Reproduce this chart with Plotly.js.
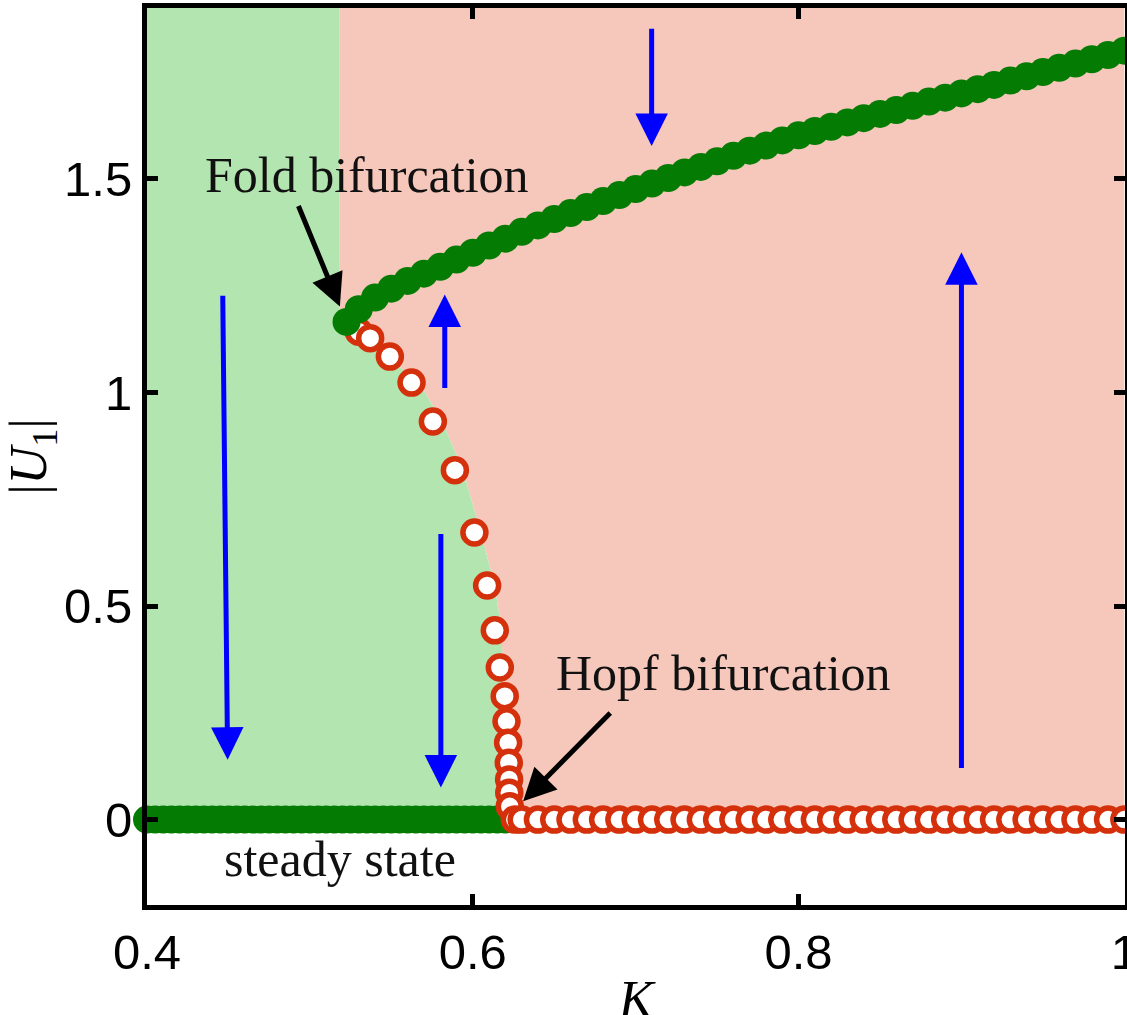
<!DOCTYPE html>
<html>
<head>
<meta charset="utf-8">
<script src="https://cdn.plot.ly/plotly-3.0.1.min.js"></script>
<style>
  html, body { margin: 0; padding: 0; background: #ffffff; overflow: hidden; }
  #chart { width: 1127px; height: 1045px; }
</style>
</head>
<body>
<div id="chart"></div>
<script>
// Bifurcation diagram of |U1| against the coupling K.

// Stable limit-cycle branch (upper, filled markers)
const upperK = [0.5225, 0.53, 0.54, 0.55, 0.56, 0.57, 0.58, 0.59, 0.60, 0.61, 0.62, 0.63, 0.64, 0.65, 0.66, 0.67, 0.68, 0.69,
  0.70, 0.71, 0.72, 0.73, 0.74, 0.75, 0.76, 0.77, 0.78, 0.79, 0.80, 0.81, 0.82, 0.83, 0.84, 0.85, 0.86, 0.87, 0.88, 0.89,
  0.90, 0.91, 0.92, 0.93, 0.94, 0.95, 0.96, 0.97, 0.98, 0.99, 1.00];
const upperU = [1.165, 1.195, 1.222, 1.243, 1.261, 1.278, 1.294, 1.311, 1.327, 1.344, 1.360, 1.376, 1.391, 1.406, 1.420, 1.434, 1.448, 1.462,
  1.476, 1.489, 1.502, 1.515, 1.528, 1.541, 1.554, 1.566, 1.578, 1.590, 1.602, 1.612, 1.622, 1.632, 1.642, 1.652, 1.661, 1.671, 1.681, 1.690,
  1.700, 1.710, 1.720, 1.730, 1.740, 1.750, 1.760, 1.770, 1.780, 1.790, 1.800];

// Unstable branch from the fold down to the Hopf point (open markers)
const unstableK = [0.5300, 0.5370, 0.5491, 0.5624, 0.5755, 0.5890, 0.6010, 0.6088, 0.6135, 0.6166, 0.6196, 0.6207, 0.6217, 0.6221, 0.6223, 0.6224, 0.6227, 0.6258];
const unstableU = [1.142, 1.127, 1.084, 1.023, 0.932, 0.818, 0.672, 0.548, 0.443, 0.356, 0.289, 0.230, 0.180, 0.133, 0.094, 0.063, 0.031, 0.000];

// Steady state: stable below the Hopf point, unstable above it
const steadyStableK = [0.400, 0.405, 0.410, 0.415, 0.420, 0.425, 0.430, 0.435, 0.440, 0.445, 0.450, 0.455, 0.460, 0.465, 0.470,
  0.475, 0.480, 0.485, 0.490, 0.495, 0.500, 0.505, 0.510, 0.515, 0.520, 0.525, 0.530, 0.535, 0.540, 0.545, 0.550, 0.555,
  0.560, 0.565, 0.570, 0.575, 0.580, 0.585, 0.590, 0.595, 0.600, 0.605, 0.610, 0.615, 0.620];
const steadyStableU = [0, 0, 0, 0, 0, 0, 0, 0, 0, 0, 0, 0, 0, 0, 0, 0, 0, 0, 0, 0, 0, 0, 0, 0, 0, 0, 0, 0, 0, 0, 0, 0,
  0, 0, 0, 0, 0, 0, 0, 0, 0, 0, 0, 0, 0];
const steadyUnstableK = [0.63, 0.64, 0.65, 0.66, 0.67, 0.68, 0.69, 0.70, 0.71, 0.72, 0.73, 0.74, 0.75, 0.76, 0.77, 0.78, 0.79,
  0.80, 0.81, 0.82, 0.83, 0.84, 0.85, 0.86, 0.87, 0.88, 0.89, 0.90, 0.91, 0.92, 0.93, 0.94, 0.95, 0.96, 0.97, 0.98, 0.99, 1.00];
const steadyUnstableU = [0, 0, 0, 0, 0, 0, 0, 0, 0, 0, 0, 0, 0, 0, 0, 0, 0, 0, 0, 0, 0, 0, 0, 0, 0, 0, 0, 0, 0, 0, 0, 0, 0, 0, 0, 0, 0, 0];

// Edge between the basin that decays to the steady state and the one that oscillates
const basinEdgeK = [0.518, 0.518, 0.528, 0.545, 0.558, 0.569, 0.581, 0.594, 0.605, 0.6135, 0.6176, 0.619, 0.619, 0.619];
const basinEdgeU = [1.9, 1.17, 1.145, 1.095, 1.05, 1.01, 0.935, 0.817, 0.671, 0.548, 0.443, 0.30, 0.10, 0.0];

// Flow-direction arrows: [K tail, U tail, K head, U head]
const flowArrows = [
  [0.4465, 1.23, 0.4495, 0.14],
  [0.5828, 1.007, 0.5828, 1.229],
  [0.5804, 0.672, 0.5804, 0.075],
  [0.7098, 1.855, 0.7098, 1.577],
  [0.9000, 0.117, 0.9000, 1.328]
];

// Pointer arrows for the two bifurcations: [K tail, U tail, K head, U head]
const pointerArrows = [
  [0.4926, 1.440, 0.5184, 1.201],
  [0.6853, 0.253, 0.6309, 0.043]
];

// Text labels: [text, K, U]
const labels = [
  ['Fold bifurcation', 0.535, 1.508],
  ['Hopf bifurcation', 0.754, 0.344],
  ['steady state', 0.5184, -0.092]
];

const xTickVals = [0.4, 0.6, 0.8, 1];
const xTickText = ['0.4', '0.6', '0.8', '1'];
const yTickVals = [0, 0.5, 1, 1.5];
const yTickText = ['0', '0.5', '1', '1.5'];

const kRange = [0.4, 1.0];
const uRange = [-0.2, 1.9];

const GREEN_BG = '#b3e5b0';
const PINK_BG = '#f6c8bb';
const GREEN = '#047c04';
const RED = '#d5300c';
const BLUE = '#0000ff';

// Basin regions built from the edge curve and the axis limits
const greenX = [kRange[0], kRange[0]].concat(basinEdgeK);
const greenY = [0, uRange[1]].concat(basinEdgeU);
const pinkX = basinEdgeK.concat([kRange[1], kRange[1]]);
const pinkY = basinEdgeU.concat([0, uRange[1]]);

const traces = [
  { x: pinkX, y: pinkY, mode: 'lines', fill: 'toself', fillcolor: PINK_BG, line: { width: 0, color: PINK_BG }, hoverinfo: 'skip', showlegend: false },
  { x: greenX, y: greenY, mode: 'lines', fill: 'toself', fillcolor: GREEN_BG, line: { width: 0, color: GREEN_BG }, hoverinfo: 'skip', showlegend: false },
  { x: steadyStableK, y: steadyStableU, mode: 'markers', marker: { size: 28, color: GREEN, line: { width: 0 } }, cliponaxis: false, showlegend: false },
  { x: unstableK, y: unstableU, mode: 'markers', marker: { size: 23, color: '#ffffff', line: { width: 5.5, color: RED } }, cliponaxis: false, showlegend: false },
  { x: steadyUnstableK, y: steadyUnstableU, mode: 'markers', marker: { size: 23, color: '#ffffff', line: { width: 5.5, color: RED } }, cliponaxis: false, showlegend: false },
  { x: upperK, y: upperU, mode: 'markers', marker: { size: 28, color: GREEN, line: { width: 0 } }, cliponaxis: false, showlegend: false }
];

const annotations = [];
flowArrows.forEach(a => {
  annotations.push({
    x: a[2], y: a[3], ax: a[0], ay: a[1], xref: 'x', yref: 'y', axref: 'x', ayref: 'y',
    text: '', showarrow: true, arrowhead: 2, arrowsize: 1.3, arrowwidth: 5, arrowcolor: BLUE, standoff: 0
  });
});
pointerArrows.forEach(a => {
  annotations.push({
    x: a[2], y: a[3], ax: a[0], ay: a[1], xref: 'x', yref: 'y', axref: 'x', ayref: 'y',
    text: '', showarrow: true, arrowhead: 2, arrowsize: 1.3, arrowwidth: 5, arrowcolor: '#000000', standoff: 0
  });
});
labels.forEach(l => {
  annotations.push({
    x: l[1], y: l[2], xref: 'x', yref: 'y', text: l[0], showarrow: false,
    xanchor: 'center', yanchor: 'middle',
    font: { family: 'Liberation Serif, serif', size: 50, color: '#111111' }
  });
});

const axisCommon = {
  showline: true, linewidth: 5, linecolor: '#000000', mirror: 'ticks',
  ticks: 'inside', ticklen: 11, tickwidth: 5, tickcolor: '#000000',
  showgrid: false, zeroline: false, ticklabeloverflow: 'allow',
  tickfont: { family: 'Liberation Sans, Arial, sans-serif', size: 49, color: '#000000' }
};

// The frame is taller than the visible page so the K label sits low, at the page edge.
const layout = {
  width: 1127, height: 1045,
  margin: { l: 147, r: 2, t: 8, b: 140, pad: 0 },
  paper_bgcolor: '#ffffff', plot_bgcolor: '#ffffff',
  xaxis: Object.assign({}, axisCommon, {
    range: [kRange[0], kRange[1] + 0.0004], tickvals: xTickVals, ticktext: xTickText,
    title: { text: '<i>K</i>', standoff: 4, font: { family: 'Liberation Serif, serif', size: 52, color: '#000000' } }
  }),
  yaxis: Object.assign({}, axisCommon, {
    range: uRange, tickvals: yTickVals, ticktext: yTickText,
    title: { text: '|<i>U</i><sub>1</sub>|', standoff: 2, font: { family: 'Liberation Serif, serif', size: 52, color: '#000000' } }
  }),
  annotations: annotations,
  showlegend: false
};

Plotly.newPlot('chart', traces, layout, { displayModeBar: false, staticPlot: true });
</script>
</body>
</html>
